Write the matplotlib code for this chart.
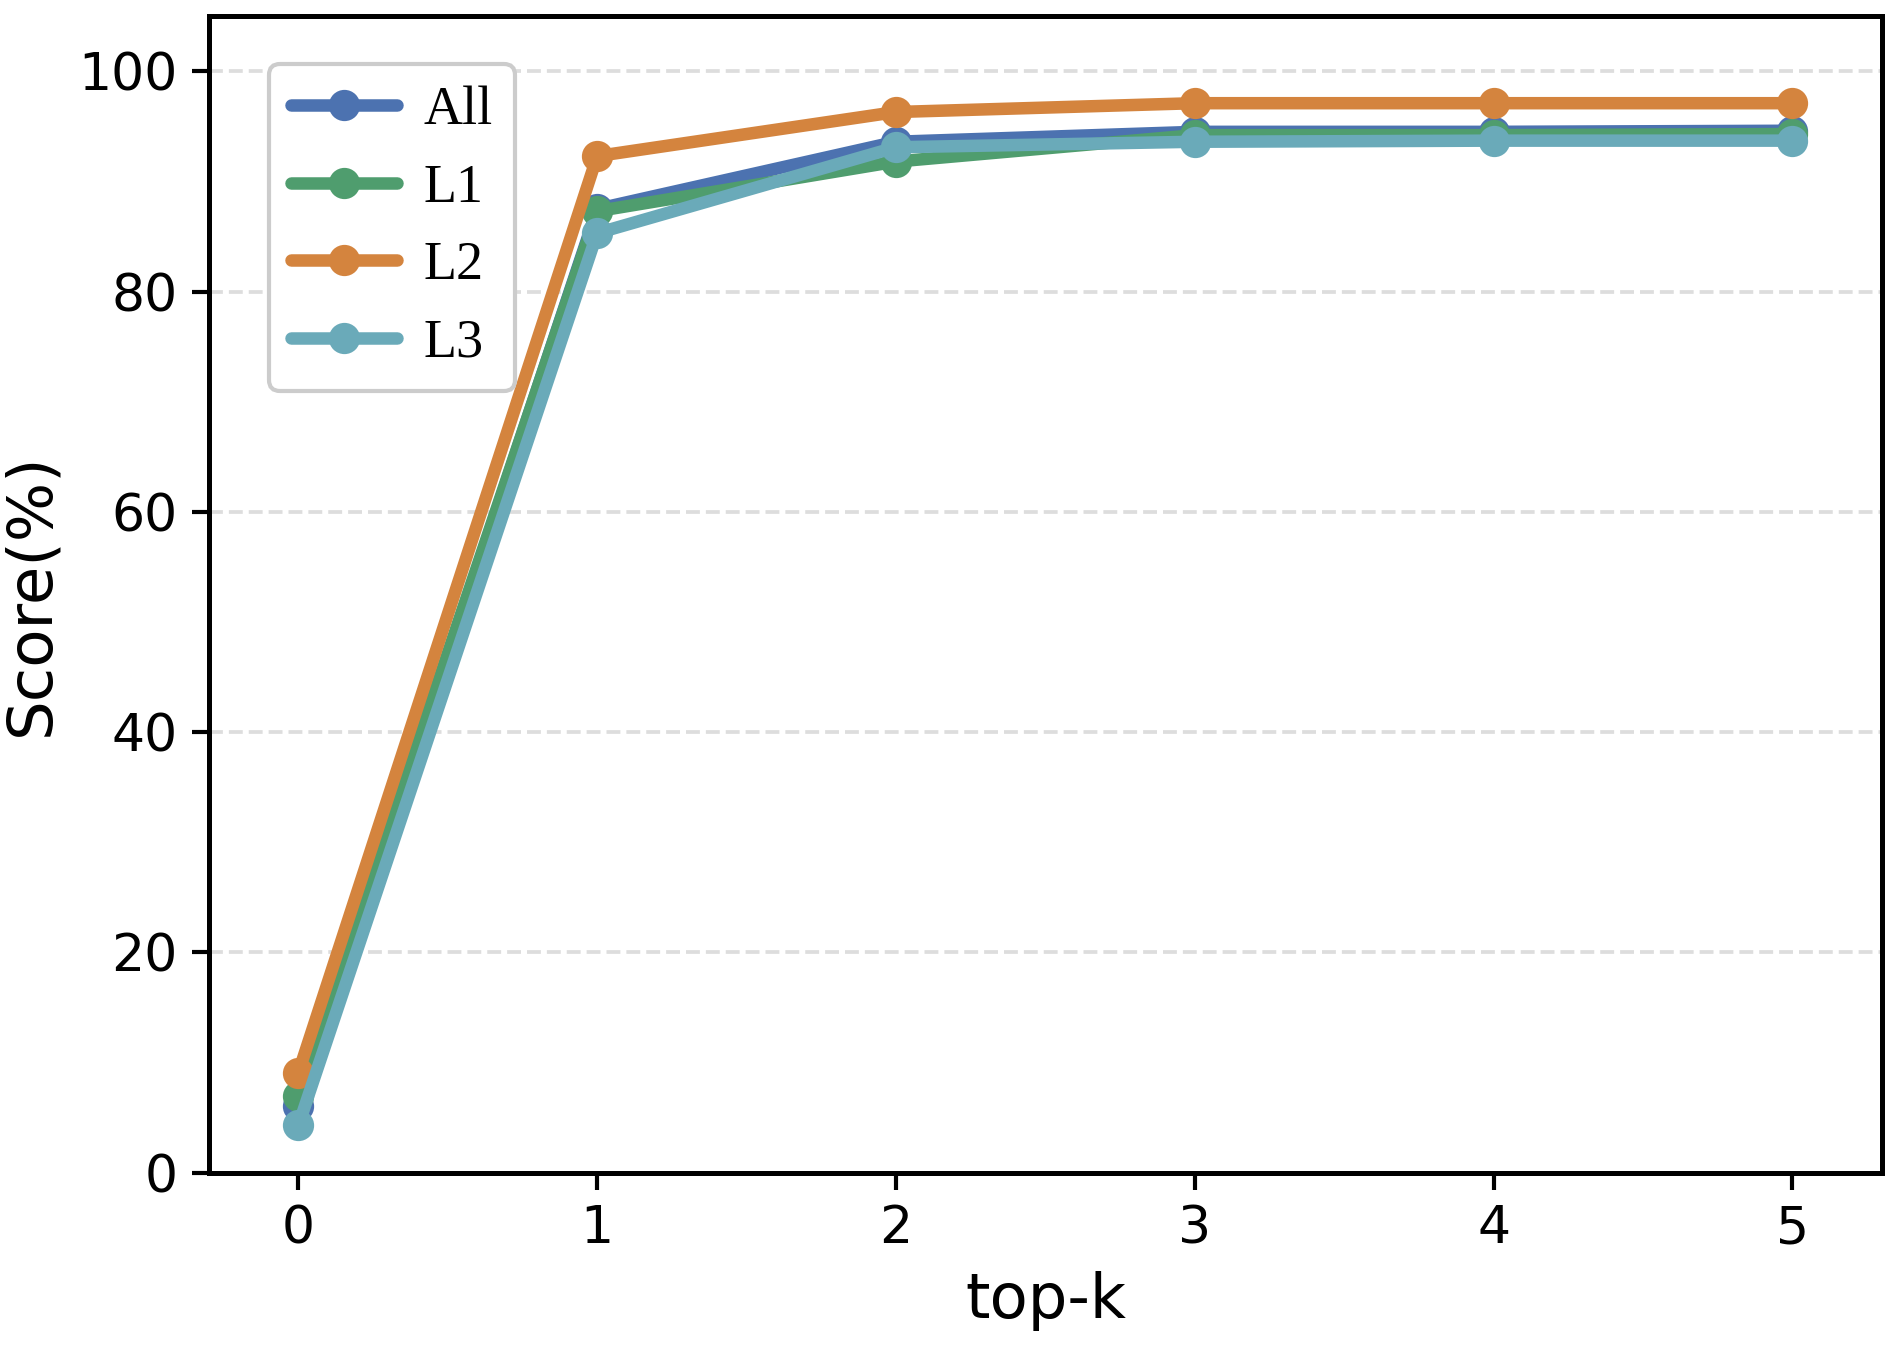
import numpy as np
import matplotlib.pyplot as plt

# --- Data ---
top_k = [0, 1, 2, 3, 4, 5]
score_all = [6.1, 87.5, 93.6, 94.5, 94.5, 94.6]
score_l1 = [7.0, 87.3, 91.8, 94.2, 94.2, 94.3]
score_l2 = [9.1, 92.3, 96.3, 97.1, 97.1, 97.1]
score_l3 = [4.3, 85.3, 93.1, 93.6, 93.7, 93.7]

series = [("All", score_all, "#4C72B0"),
          ("L1", score_l1, "#4F9D6E"),
          ("L2", score_l2, "#D4843E"),
          ("L3", score_l3, "#6AAAB9")]

fig = plt.figure(figsize=(1898 / 300, 1348 / 300), dpi=300)
ax = fig.add_axes([0.110, 0.130, 0.8816, 0.858])

for name, vals, color in series:
    ax.plot(top_k, vals, "-o", color=color, label=name, linewidth=3,
            markersize=6.5, solid_capstyle="round")

# --- Axes styling ---
ax.set_xlim(-0.3, 5.3)
ax.set_ylim(0, 105)
ax.set_xticks(top_k)
ax.set_yticks([0, 20, 40, 60, 80, 100])
ax.grid(axis="y", linestyle="--", color="#dddddd", linewidth=0.9)
ax.set_axisbelow(True)
ax.tick_params(labelsize=12.5, width=1.0, length=4)
for sp in ax.spines.values():
    sp.set_linewidth(1.2)
    sp.set_color("black")

ax.set_xlabel("top-k", fontsize=15)
ax.set_ylabel("Score(%)", fontsize=15)

ax.legend(loc="upper left", bbox_to_anchor=(0.020, 0.982),
          prop={"family": "Liberation Serif", "size": 13},
          handlelength=1.95, handletextpad=0.5,
          framealpha=1, edgecolor="#cccccc")

fig.savefig("out.png", dpi=300)
